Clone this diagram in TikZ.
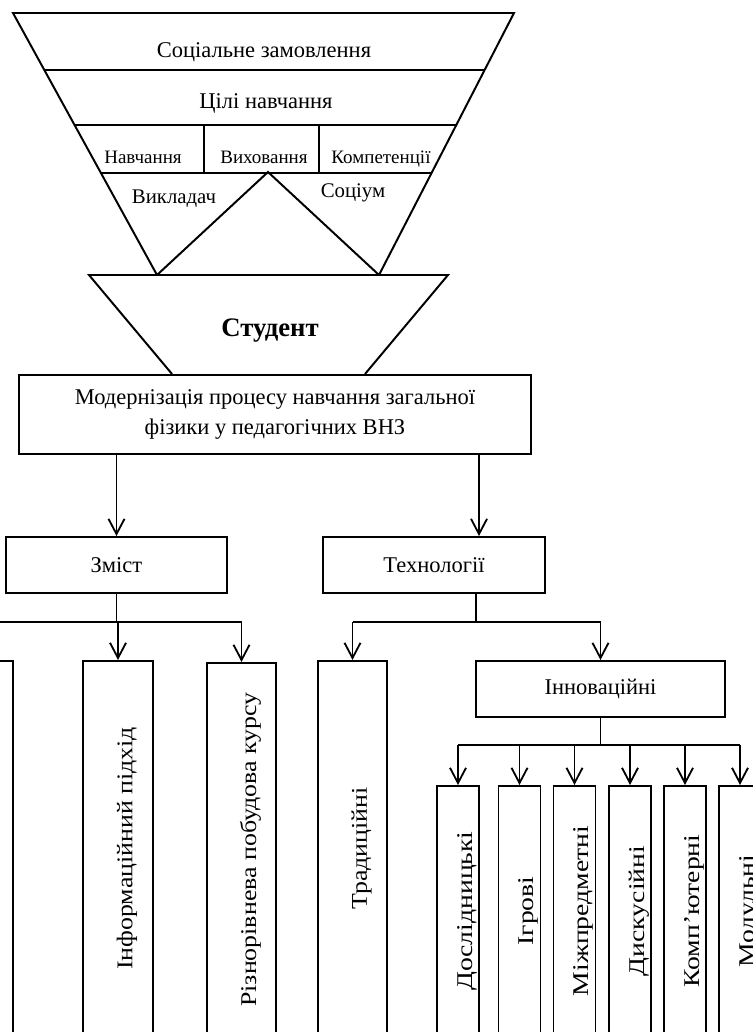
\documentclass[tikz,border=0pt]{standalone}
\usepackage{fontspec}
\setmainfont{Liberation Serif}
\newfontfamily\longfont[FakeStretch=1.15]{Liberation Serif}
\newfontfamily\longerfont[FakeStretch=1.23]{Liberation Serif}
\usetikzlibrary{arrows.meta,calc,positioning}

\begin{document}
\begin{tikzpicture}[
  x=0.025cm,
  y=-0.025cm,
  >={Straight Barb[length=3.8mm,width=4mm]},
  outline/.style={black,line width=1.4pt},
  conn/.style={black,line width=1.3pt},
  box/.style={draw=black,line width=1.4pt,rectangle,inner sep=0pt,
    align=center,font=\fontsize{16}{21}\selectfont},
  widebox/.style={box,minimum height=1.4cm},
  tallbox/.style={box,minimum width=1.75cm,minimum height=9.375cm,
    font=\longfont\fontsize{16}{21}\selectfont},
  thinbox/.style={box,minimum width=1.05cm,minimum height=6.25cm,
    font=\longerfont\fontsize{16}{21}\selectfont},
  funnellabel/.style={anchor=base,font=\fontsize{16}{19}\selectfont},
  sidelabel/.style={anchor=base,font=\fontsize{14.8}{18}\selectfont},
  rowlabel/.style={anchor=base,font=\fontsize{13.5}{16}\selectfont}
]
\useasboundingbox (0,0) rectangle (753,1032);

\coordinate (FTL) at (13,13);
\coordinate (FTR) at (514,13);
\coordinate (FBL) at (157,275);
\coordinate (FBR) at (379,275);
\coordinate (APEX) at (268,172);
\coordinate (STL) at (89,275);
\coordinate (STR) at (448,275);

\draw[outline] (FBL) -- (FTL) -- (FTR) -- (FBR);
\draw[outline] ($(FTL)!0.2176!(FBL)$) -- ($(FTR)!0.2176!(FBR)$);
\draw[outline] ($(FTL)!0.4275!(FBL)$) -- ($(FTR)!0.4275!(FBR)$);
\draw[outline] ($(FTL)!0.6107!(FBL)$) -- ($(FTR)!0.6107!(FBR)$);
\draw[outline] (204,125) -- (204,173);
\draw[outline] (319,125) -- (319,173);
\draw[outline] (FBL) -- (APEX) -- (FBR);

\node[funnellabel] (order) at (264,57) {Соціальне замовлення};
\node[funnellabel] (goals) at (266,108) {Цілі навчання};
\node[rowlabel] (teaching) at (143,163) {Навчання};
\node[rowlabel] (upbringing) at (264,163) {Виховання};
\node[rowlabel] (competence) at (381,163) {Компетенції};
\node[sidelabel] (lecturer) at (174,203) {Викладач};
\node[sidelabel] (society) at (353,197) {Соціум};

\node[box,minimum width=12.8cm,minimum height=1.975cm] (modern) at (275,414.5)
  {Модернізація процесу навчання загальної\\фізики у педагогічних ВНЗ};

\draw[outline] (172,0 |- modern.north) -- (STL) -- (STR) -- (365,0 |- modern.north);
\node[anchor=base,font=\bfseries\fontsize{19}{23}\selectfont] (student) at (270,336) {Студент};

\node[widebox,minimum width=5.525cm] (zmist) at (116.5,565) {Зміст};
\node[widebox,minimum width=5.55cm] (tech) at (434,565) {Технології};
\node[widebox,minimum width=6.225cm] (innov) at (600.5,689) {Інноваційні};

\node[tallbox] (lbox) at (-22,848.5) {};
\node[tallbox] (info) at (118,848.5) {\hspace*{0.45cm}\rotatebox{90}{Інформаційний підхід}};
\node[tallbox,minimum width=1.725cm,minimum height=9.325cm] (multi) at (241.5,849.5)
  {\hspace*{0.45cm}\rotatebox{90}{Різнорівнева побудова курсу}};
\node[tallbox,minimum width=1.725cm] (trad) at (352.5,848.5)
  {\hspace*{0.45cm}\rotatebox{90}{Традиційні}};

\foreach \name/\xc/\txt in {res/458/Дослідницькі,game/519.5/Ігрові,
  inter/574.5/Міжпредметні,disc/630/Дискусійні,pc/685/Комп’ютерні,modul/740/Модульні}
  \node[thinbox] (\name) at (\xc,911) {\hspace*{0.45cm}\rotatebox{90}{\txt}};

\coordinate (techin) at ([xshift=1.125cm]tech.north);
\coordinate (techout) at ([xshift=1.05cm]tech.south);

\draw[conn,->] (zmist.north |- modern.south) -- (zmist.north);
\draw[conn,->] (techin |- modern.south) -- (techin);

\draw[conn] (zmist.south) -- ++(0,28) coordinate (zbus);
\draw[conn] (lbox.north |- zbus) -- (multi.north |- zbus);
\foreach \b in {lbox,info,multi}
  \draw[conn,->] (\b.north |- zbus) -- (\b.north);

\draw[conn] (techout) -- ++(0,28) coordinate (tbus);
\draw[conn] (trad.north |- tbus) -- (innov.north |- tbus);
\foreach \b in {trad,innov}
  \draw[conn,->] (\b.north |- tbus) -- (\b.north);

\draw[conn] (innov.south) -- ++(0,27) coordinate (ibus);
\draw[conn] (res.north |- ibus) -- (modul.north |- ibus);
\foreach \b in {res,game,inter,disc,pc,modul}
  \draw[conn,->] (\b.north |- ibus) -- (\b.north);
\end{tikzpicture}
\end{document}
